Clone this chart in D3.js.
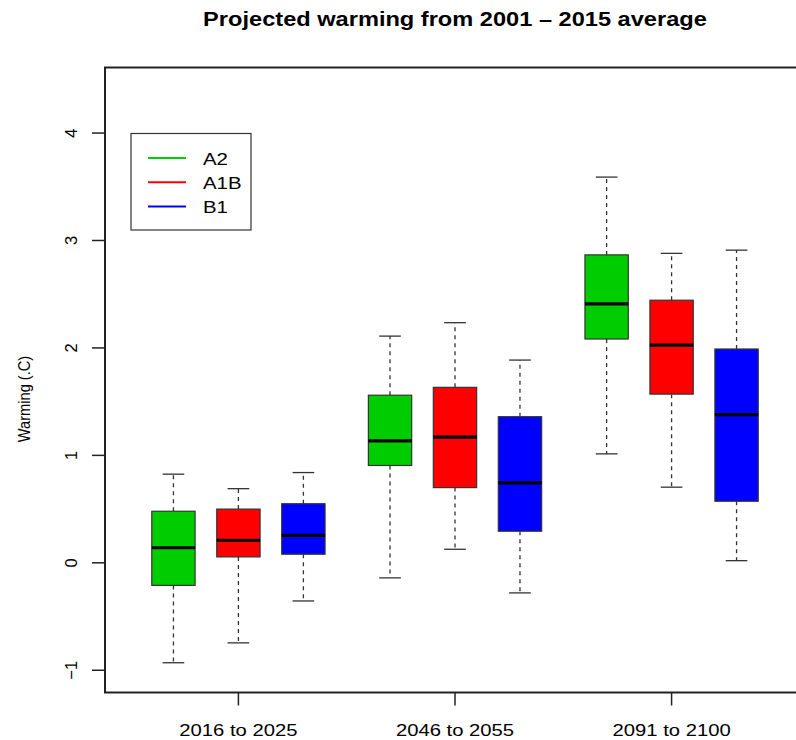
<!DOCTYPE html>
<html>
<head>
<meta charset="utf-8">
<script src="https://cdn.jsdelivr.net/npm/d3@7"></script>
<style>
  body { margin: 0; background: #fff; }
  svg { display: block; font-family: "Liberation Sans", Arial, Helvetica, sans-serif; }
</style>
</head>
<body>
<svg id="chart" width="796" height="740"></svg>
<script>
// ---- data ----
const periods = ["2016 to 2025", "2046 to 2055", "2091 to 2100"];
const scenarios = ["A2", "A1B", "B1"];
const scenarioColors = ["#00CD00", "#FF0000", "#0000FF"];
// [whiskerLow, Q1, median, Q3, whiskerHigh] per period
const statsA2  = [[-0.93, -0.21, 0.14, 0.48, 0.825], [-0.14, 0.906, 1.135, 1.56, 2.11], [1.014, 2.083, 2.41, 2.866, 3.59]];
const statsA1B = [[-0.745, 0.055, 0.21, 0.50, 0.69], [0.126, 0.70, 1.17, 1.633, 2.235], [0.704, 1.57, 2.027, 2.444, 2.88]];
const statsB1  = [[-0.355, 0.08, 0.256, 0.55, 0.84], [-0.28, 0.294, 0.744, 1.36, 1.887], [0.02, 0.573, 1.38, 1.99, 2.91]];
const yTicks = [-1, 0, 1, 2, 3, 4];
const offsets = [-0.3, 0, 0.3];

(function () {
const svg = d3.select("#chart");
const pLeft = 105, pRight = 805, pTop = 67.5, pBottom = 692.5;

const x = d3.scaleLinear().domain([0.384, 3.616]).range([pLeft, pRight]);
const y = d3.scaleLinear().domain([-1.207, 4.61]).range([pBottom, pTop]);

// adjust text run length to match the reference's rendering
function widen(sel, sx) {
  sel.each(function () {
    const w = this.getComputedTextLength();
    d3.select(this).attr("textLength", w * sx).attr("lengthAdjust", "spacingAndGlyphs");
  });
  return sel;
}

// title
widen(svg.append("text").attr("x", 455).attr("y", 26).attr("text-anchor", "middle")
  .attr("font-weight", "bold").attr("font-size", 20).attr("fill", "#000")
  .text("Projected warming from 2001 \u2013 2015 average"), 1.18);

// boxes
const allStats = [statsA2, statsA1B, statsB1];
const boxW = 0.2;
const g = svg.append("g");
allStats.forEach((series, si) => {
  series.forEach((s, pi) => {
    const cx = x(pi + 1 + offsets[si]);
    const hw = (x(boxW) - x(0)) / 2;
    const [lo, q1, med, q3, hi] = s;
    // whiskers
    g.append("line").attr("x1", cx).attr("x2", cx).attr("y1", y(q3)).attr("y2", y(hi))
      .attr("stroke", "#333").attr("stroke-width", 1.3).attr("stroke-dasharray", "4,4");
    g.append("line").attr("x1", cx).attr("x2", cx).attr("y1", y(q1)).attr("y2", y(lo))
      .attr("stroke", "#333").attr("stroke-width", 1.3).attr("stroke-dasharray", "4,4");
    // staples
    [lo, hi].forEach(v => {
      g.append("line").attr("x1", cx - hw / 2).attr("x2", cx + hw / 2)
        .attr("y1", y(v)).attr("y2", y(v)).attr("stroke", "#333").attr("stroke-width", 1.3);
    });
    // box
    g.append("rect").attr("x", cx - hw).attr("width", 2 * hw)
      .attr("y", y(q3)).attr("height", y(q1) - y(q3))
      .attr("fill", scenarioColors[si]).attr("stroke", "#333").attr("stroke-width", 1.2);
    // median
    g.append("line").attr("x1", cx - hw).attr("x2", cx + hw)
      .attr("y1", y(med)).attr("y2", y(med)).attr("stroke", "#000").attr("stroke-width", 3.2);
  });
});

// frame
svg.append("rect").attr("x", pLeft).attr("y", pTop).attr("width", pRight - pLeft).attr("height", pBottom - pTop)
  .attr("fill", "none").attr("stroke", "#222").attr("stroke-width", 2);

// y axis ticks
yTicks.forEach(t => {
  svg.append("line").attr("x1", pLeft - 13).attr("x2", pLeft).attr("y1", y(t)).attr("y2", y(t))
    .attr("stroke", "#222").attr("stroke-width", 1.5);
  svg.append("text").attr("transform", `translate(${77},${y(t)}) rotate(-90)`)
    .attr("text-anchor", "middle").attr("font-size", 16.5).attr("fill", "#000")
    .text(t < 0 ? "\u2212" + Math.abs(t) : t);
});

// x axis ticks
periods.forEach((p, i) => {
  const cx = x(i + 1);
  svg.append("line").attr("x1", cx).attr("x2", cx).attr("y1", pBottom).attr("y2", pBottom + 13)
    .attr("stroke", "#222").attr("stroke-width", 1.5);
  widen(svg.append("text").attr("x", cx).attr("y", 736).attr("text-anchor", "middle")
    .attr("font-size", 17).attr("fill", "#000").text(p), 1.19);
});

// y label
widen(svg.append("text").attr("transform", "translate(30,399) rotate(-90)")
  .attr("text-anchor", "middle").attr("font-size", 17).attr("fill", "#000")
  .text("Warming (.C)"), 0.86);

// legend
const lg = svg.append("g");
lg.append("rect").attr("x", 131).attr("y", 133.5).attr("width", 120).attr("height", 96.5)
  .attr("fill", "#fff").attr("stroke", "#333").attr("stroke-width", 1.2);
scenarios.forEach((s, i) => {
  const ly = 158 + i * 24.2;
  lg.append("line").attr("x1", 148).attr("x2", 186).attr("y1", ly).attr("y2", ly)
    .attr("stroke", scenarioColors[i]).attr("stroke-width", 2);
  widen(lg.append("text").attr("x", 203).attr("y", ly + 6.5).attr("font-size", 17)
    .attr("fill", "#000").text(s), 1.2);
});
})();
</script>
</body>
</html>
